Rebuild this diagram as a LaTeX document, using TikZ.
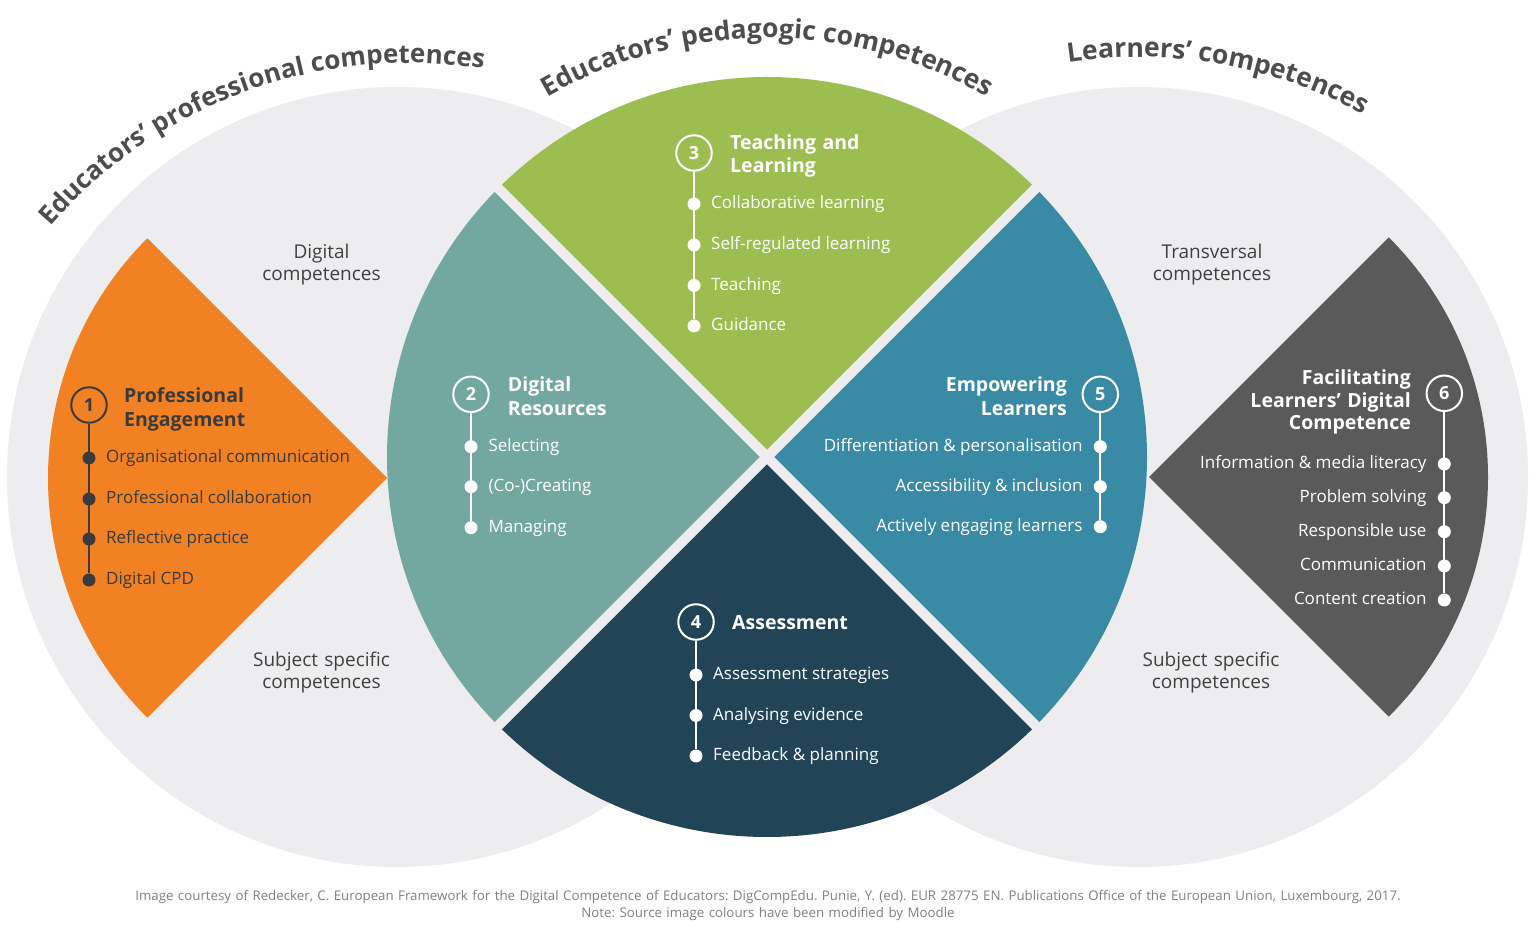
\documentclass[tikz,border=0pt]{standalone}
\usepackage{fontspec}
\setmainfont{Open Sans}
\usetikzlibrary{shapes,arrows,positioning,calc,decorations.text}

\definecolor{ringgrey}{HTML}{EDECEF}
\definecolor{tangerine}{HTML}{F28123}
\definecolor{leafgreen}{HTML}{9CBE51}
\definecolor{seateal}{HTML}{72A89F}
\definecolor{oceanblue}{HTML}{398BA5}
\definecolor{deepnavy}{HTML}{214456}
\definecolor{slategrey}{HTML}{5A5A5A}
\definecolor{inkgrey}{HTML}{3B3B3B}
\definecolor{labelgrey}{HTML}{404040}
\definecolor{titlegrey}{HTML}{4D4D4D}
\definecolor{footgrey}{HTML}{808080}

\newcommand{\arcfont}{\fontsize{26.5}{30}\selectfont\bfseries}
\frenchspacing

\tikzset{
  dot/.style={circle,fill=#1,inner sep=0pt,minimum size=13pt},
  num/.style={circle,draw=#1,line width=2pt,inner sep=0pt,minimum size=35.5pt,text=#1,font=\fontsize{18}{20}\selectfont\bfseries},
  stem/.style={draw=#1,line width=2pt},
  item/.style={inner sep=0pt,text=#1,font=\fontsize{17}{20}\selectfont},
  head/.style={inner sep=0pt,text=#1,text width=260pt,font=\fontsize{19.5}{23.5}\selectfont\bfseries},
  side/.style={inner sep=0pt,text=labelgrey,text width=200pt,align=center,anchor=base,font=\fontsize{19}{22}\selectfont},
}

\begin{document}
\begin{tikzpicture}[x=1pt,y=1pt]
\useasboundingbox (0,0) rectangle (1536,940);
\fill[white] (0,0) rectangle (1536,940);
% grey rings behind
\fill[ringgrey] (397,463) circle[radius=390];
\fill[ringgrey] (1138,463) circle[radius=390];
% the four pedagogic quarters
\fill[leafgreen] (767,483) -- ++(45:380) arc[start angle=45,end angle=135,radius=380] -- cycle;
\fill[seateal] (767,483) -- ++(135:380) arc[start angle=135,end angle=225,radius=380] -- cycle;
\fill[deepnavy] (767,483) -- ++(225:380) arc[start angle=225,end angle=315,radius=380] -- cycle;
\fill[oceanblue] (767,483) -- ++(-45:380) arc[start angle=-45,end angle=45,radius=380] -- cycle;
\draw[ringgrey,line width=10pt] (767,483) ++(45:381) -- ++(225:762);
\draw[ringgrey,line width=10pt] (767,483) ++(135:381) -- ++(315:762);
% side wedges
\fill[tangerine] (387,462) -- ++(135:339) arc[start angle=135,end angle=225,radius=339] -- cycle;
\fill[slategrey] (1149,463) -- ++(-45:339) arc[start angle=-45,end angle=45,radius=339] -- cycle;

% titles on arcs
\path[decorate,decoration={text along path,text align=center,text color=titlegrey,
  text={|\fontsize{26}{30}\selectfont\bfseries|Educators’ professional competences}}]
  (409,402) ++(150:475) arc[start angle=150,end angle=70,radius=475];
\path[decorate,decoration={text along path,text align=center,text color=titlegrey,
  text={|\arcfont|Educators’ pedagogic competences}}]
  (767.5,466) ++(130:436) arc[start angle=130,end angle=50,radius=436];
\path[decorate,decoration={text along path,text align=center,text color=titlegrey,
  text={|\arcfont|Learners’ competences}}]
  (1138,411) ++(110:472) arc[start angle=110,end angle=50,radius=472];

% grey labels
\node[side] (s1) at (321.5,681.7) {Digital\\competences};
\node[side] (s2) at (321.5,273.3) {Subject specific\\competences};
\node[side] (s3) at (1212,681.7) {Transversal\\competences};
\node[side] (s4) at (1211,273.3) {Subject specific\\competences};

% 1 Professional Engagement
\node[num=inkgrey] (c1) at (89,535) {1};
\node[head=inkgrey,anchor=base west,align=left] (h1) at (124,537) {Professional\\Engagement};
\node[dot=inkgrey] (d11) at (89,482) {};
\node[dot=inkgrey] (d12) at (89,441) {};
\node[dot=inkgrey] (d13) at (89,401) {};
\node[dot=inkgrey] (d14) at (89,360) {};
\draw[stem=inkgrey] (c1) -- (d14);
\node[item=inkgrey,anchor=base west] (i11) at (106,477) {Organisational communication};
\node[item=inkgrey,anchor=base west] (i12) at (106,436) {Professional collaboration};
\node[item=inkgrey,anchor=base west] (i13) at (106,396) {Reflective practice};
\node[item=inkgrey,anchor=base west] (i14) at (106,355) {Digital CPD};

% 2 Digital Resources
\node[num=white] (c2) at (471,545.7) {2};
\node[head=white,anchor=base west,align=left] (h2) at (507.7,548.3) {Digital\\Resources};
\node[dot=white] (d21) at (471,493.3) {};
\node[dot=white] (d22) at (471,453.3) {};
\node[dot=white] (d23) at (471,412.3) {};
\draw[stem=white] (c2) -- (d23);
\node[item=white,anchor=base west] (i21) at (488.3,488.3) {Selecting};
\node[item=white,anchor=base west] (i22) at (488.3,448.3) {(Co-)Creating};
\node[item=white,anchor=base west] (i23) at (488.3,407.3) {Managing};

% 3 Teaching and Learning
\node[num=white] (c3) at (694,787) {3};
\node[head=white,anchor=base west,align=left] (h3) at (730,790.5) {Teaching and\\Learning};
\node[dot=white] (d31) at (694,736) {};
\node[dot=white] (d32) at (694,695) {};
\node[dot=white] (d33) at (694,654.5) {};
\node[dot=white] (d34) at (694,614) {};
\draw[stem=white] (c3) -- (d34);
\node[item=white,anchor=base west] (i31) at (711,731) {Collaborative learning};
\node[item=white,anchor=base west] (i32) at (711,690) {Self-regulated learning};
\node[item=white,anchor=base west] (i33) at (711,649.5) {Teaching};
\node[item=white,anchor=base west] (i34) at (711,609) {Guidance};

% 4 Assessment
\node[num=white] (c4) at (696,318) {4};
\node[head=white,anchor=base west,align=left] (h4) at (732,310) {Assessment};
\node[dot=white] (d41) at (696,265) {};
\node[dot=white] (d42) at (696,224.5) {};
\node[dot=white] (d43) at (696,184) {};
\draw[stem=white] (c4) -- (d43);
\node[item=white,anchor=base west] (i41) at (713,260) {Assessment strategies};
\node[item=white,anchor=base west] (i42) at (713,219.5) {Analysing evidence};
\node[item=white,anchor=base west] (i43) at (713,179) {Feedback \& planning};

% 5 Empowering Learners
\node[num=white] (c5) at (1100.3,545.7) {5};
\node[head=white,anchor=base east,align=right] (h5) at (1067,548.3) {Empowering\\Learners};
\node[dot=white] (d51) at (1100.3,493.3) {};
\node[dot=white] (d52) at (1100.3,453.3) {};
\node[dot=white] (d53) at (1100.3,413.3) {};
\draw[stem=white] (c5) -- (d53);
\node[item=white,anchor=base east] (i51) at (1082.7,488.3) {Differentiation \& personalisation};
\node[item=white,anchor=base east] (i52) at (1082.7,448.3) {Accessibility \& inclusion};
\node[item=white,anchor=base east] (i53) at (1082.7,408.3) {Actively engaging learners};

% 6 Facilitating Learners' Digital Competence
\node[num=white] (c6) at (1444.3,546.7) {6};
\node[head=white,anchor=base east,align=right,font=\fontsize{19.5}{22.5}\selectfont\bfseries] (h6) at (1411,555) {Facilitating\\Learners’ Digital\\Competence};
\node[dot=white] (d61) at (1444.3,476) {};
\node[dot=white] (d62) at (1444.3,442.3) {};
\node[dot=white] (d63) at (1444.3,408.3) {};
\node[dot=white] (d64) at (1444.3,374) {};
\node[dot=white] (d65) at (1444.3,340) {};
\draw[stem=white] (c6) -- (d65);
\node[item=white,anchor=base east] (i61) at (1426.7,471) {Information \& media literacy};
\node[item=white,anchor=base east] (i62) at (1426.7,437.3) {Problem solving};
\node[item=white,anchor=base east] (i63) at (1426.7,403.3) {Responsible use};
\node[item=white,anchor=base east] (i64) at (1426.7,369) {Communication};
\node[item=white,anchor=base east] (i65) at (1426.7,335) {Content creation};

% source note
\node[inner sep=0pt,text=footgrey,text width=1500pt,align=center,anchor=base,font=\fontsize{13.3}{17}\selectfont] (f1) at (768,40)
  {Image courtesy of Redecker, C. European Framework for the Digital Competence of Educators: DigCompEdu. Punie, Y. (ed). EUR 28775 EN. Publications Office of the European Union, Luxembourg, 2017.\\Note: Source image colours have been modified by Moodle};
\end{tikzpicture}
\end{document}
